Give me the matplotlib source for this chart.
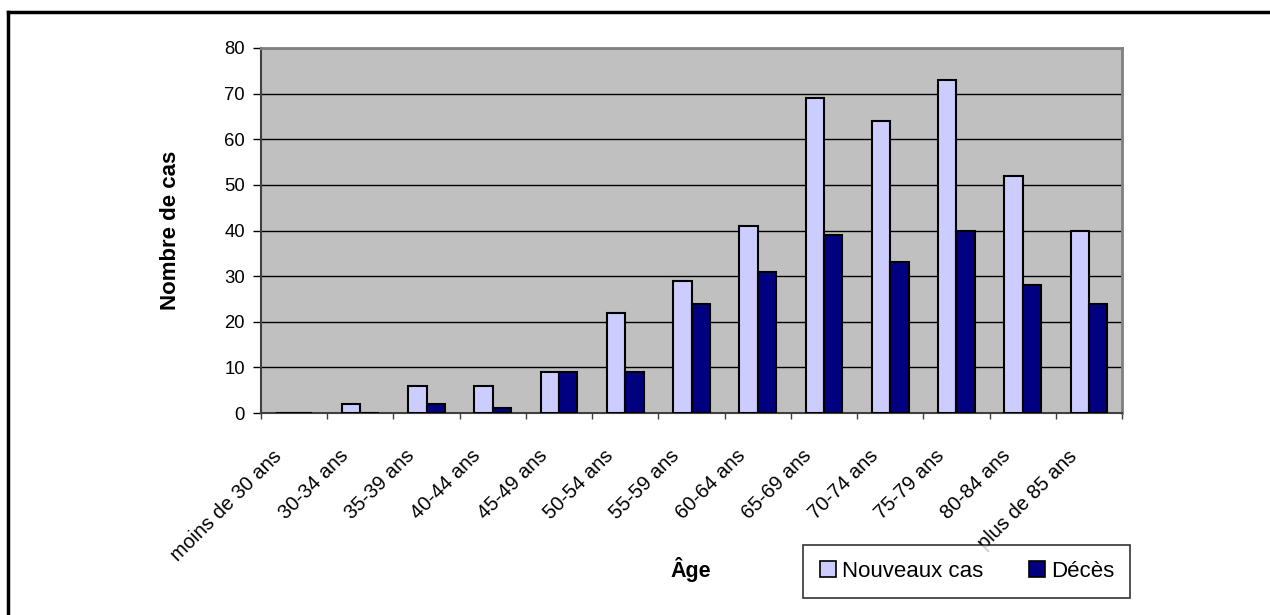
import numpy as np
import matplotlib.pyplot as plt
from matplotlib.lines import Line2D
from matplotlib.transforms import ScaledTranslation

plt.rcParams['font.family'] = ['Liberation Sans', 'DejaVu Sans']

age_groups = ['moins de 30 ans', '30-34 ans', '35-39 ans', '40-44 ans', '45-49 ans',
              '50-54 ans', '55-59 ans', '60-64 ans', '65-69 ans', '70-74 ans',
              '75-79 ans', '80-84 ans', 'plus de 85 ans']
nouveaux_cas = [0, 2, 6, 6, 9, 22, 29, 41, 69, 64, 73, 52, 40]
deces = [0, 0, 2, 1, 9, 9, 24, 31, 39, 33, 40, 28, 24]

W, H = 1270, 615
fig = plt.figure(figsize=(W / 100, H / 100), dpi=100)
ax = fig.add_axes([261 / W, 1 - 413 / H, (1122 - 261) / W, (413 - 48) / H])

x = np.arange(len(age_groups))
w = 0.277
ax.bar(x - w / 2, nouveaux_cas, w, color='#CCCCFF', edgecolor='black', linewidth=1.5,
       label='Nouveaux cas', zorder=3)
ax.bar(x + w / 2, deces, w, color='#000080', edgecolor='black', linewidth=1.5,
       label='Décès', zorder=3)

ax.set_facecolor('#C0C0C0')
ax.set_xlim(-0.5, len(age_groups) - 0.5)
ax.set_ylim(0, 80)
ax.set_yticks(range(0, 81, 10))
ax.yaxis.grid(True, color='black', linewidth=1, zorder=1)
ax.tick_params(axis='y', labelsize=13.3, length=5.5, pad=6, direction='out', width=1)

# ticks on category boundaries, labels drawn at the centres
ax.set_xticks(np.arange(-0.5, len(age_groups), 1))
ax.set_xticklabels([])
ax.tick_params(axis='x', length=4, direction='out', width=1, color='#404040')

offset = ScaledTranslation(-15 / 100, -40 / 100, fig.dpi_scale_trans)
for xi, lab in zip(x, age_groups):
    ax.text(xi, 0, lab, transform=ax.get_xaxis_transform() + offset,
            rotation=45, rotation_mode='anchor', ha='right', va='center', fontsize=14.5)

for side in ['top', 'right']:
    ax.spines[side].set_color('#808080')
    ax.spines[side].set_linewidth(2)
for side in ['left', 'bottom']:
    ax.spines[side].set_color('#404040')
    ax.spines[side].set_linewidth(1.5)

fig.text(170 / W, 1 - 230 / H, 'Nombre de cas', rotation=90, ha='center', va='center',
         fontsize=16, fontweight='bold')
fig.text(691 / W, 1 - 569 / H, 'Âge', ha='center', va='center',
         fontsize=15.5, fontweight='bold')

handles = [Line2D([], [], marker='s', linestyle='none', markersize=11.5,
                  markerfacecolor=c, markeredgecolor='black', markeredgewidth=1.2)
           for c in ['#CCCCFF', '#000080']]
leg = fig.legend(handles, ['Nouveaux cas', 'Décès'], ncol=2, fontsize=16,
                 loc='center', bbox_to_anchor=(966.5 / W, 1 - 571.5 / H),
                 frameon=True, fancybox=False, edgecolor='black', handletextpad=0.25,
                 columnspacing=2.0, borderpad=0.7, handlelength=0.8, borderaxespad=0)
leg.get_frame().set_linewidth(1.2)

# outer chart border (only left and top visible in the crop)
fig.add_artist(Line2D([8 / W, 8 / W], [0, 1 - 12 / H], color='black', linewidth=2.5,
                      transform=fig.transFigure))
fig.add_artist(Line2D([8 / W, 1], [1 - 12 / H, 1 - 12 / H], color='black', linewidth=2.5,
                      transform=fig.transFigure))

fig.savefig('out.png', dpi=100)
